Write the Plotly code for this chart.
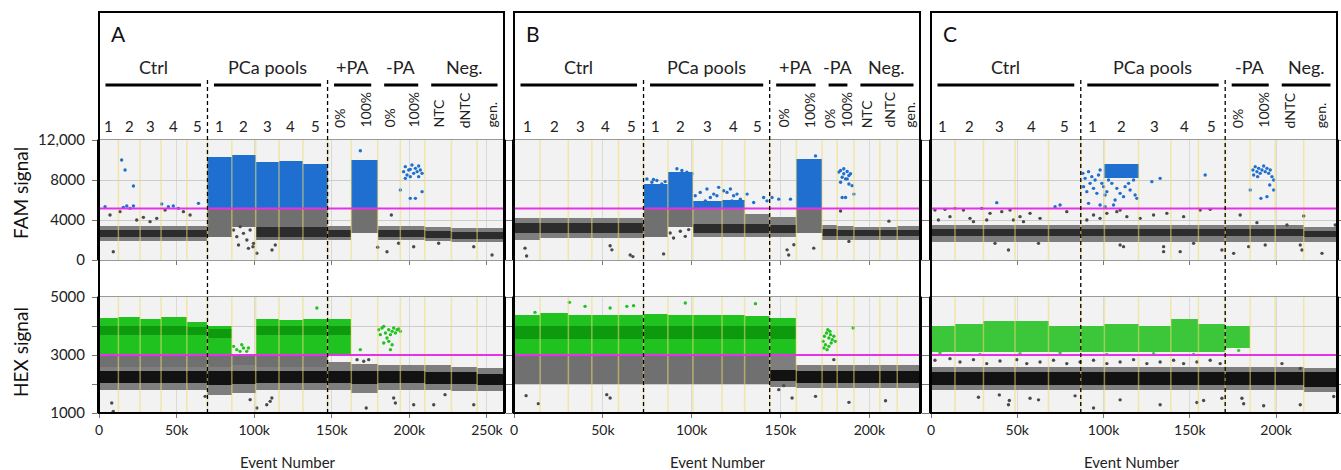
import plotly.graph_objects as go

W, H = 1341, 470
N = None
FAM_THR = 5150
HEX_THR = 3000

# ---------------- Panel A ----------------
A_bounds = [0, 12500, 26500, 40000, 56600, 69900, 85600, 101000, 116000, 131400,
            147300, 162600, 179600, 194200, 209900, 227100, 243700, 261000]
A_wells = ["1", "2", "3", "4", "5", "1", "2", "3", "4", "5", "0%", "100%", "0%", "100%", "NTC", "dNTC", "gen."]
A_groups = ["Ctrl", "PCa pools", "+PA", "-PA", "Neg."]
A_group_sizes = [5, 5, 2, 2, 3]
A_dashed = [69900, 147300]
A_xticks = [0, 50000, 100000, 150000, 200000, 250000]

A_fam_neg_lo = [1900, 1900, 1900, 1900, 1900, N, N, N, N, N, 2000, N, 2000, 2000, 1900, 1800, 1800]
A_fam_neg_hi = [3400, 3400, 3400, 3400, 3400, N, N, N, N, N, 3400, N, 3400, 3400, 3300, 3200, 3200]
A_fam_core_lo = [2300, 2300, 2300, 2300, 2300, N, N, 2300, 2300, 2300, 2350, N, 2300, 2300, 2200, 2100, 2100]
A_fam_core_hi = [3000, 3000, 3000, 3000, 3000, N, N, 3300, 3300, 3300, 3000, N, 3000, 3000, 2900, 2800, 2800]
A_fam_mid_lo = [N, N, N, N, N, 2300, 3300, 2000, 2000, 2000, N, 2700, N, N, N, N, N]
A_fam_mid_hi = [N, N, N, N, N, 5150, 5150, 5150, 5150, 5150, N, 5150, N, N, N, N, N]
A_fam_pos_lo = [N, N, N, N, N, 5150, 5150, 5150, 5150, 5150, N, 5150, N, N, N, N, N]
A_fam_pos_hi = [N, N, N, N, N, 10300, 10500, 9800, 9900, 9600, N, 10000, N, N, N, N, N]
A_fam_pts_x = [3900, 7100, 13500, 15700, 17900, 20000, 22200, 14600, 16800, 22200, 9200, 24300, 28600, 40400,
               42600, 44700, 47900, 51200, 54400, 58700, 64100, 37200, 32900,
               168400, 188400, 179600, 185600, 193100, 202800, 218900, 241500, 253300, 99200, 111500, 113600, 101700,
               86700, 88800, 91000, 93100, 95300, 97400, 99600, 89900, 96300,
               196300, 197400, 198500, 199600, 200600, 201700, 202800, 203900, 205000, 206000, 207100, 208200,
               197400, 200600, 206000, 203900, 200600, 208200, 194200]
A_fam_pts_y = [5333, 4500, 4833, 5267, 5400, 5167, 5400, 10000, 9000, 7400, 830, 4000, 4267, 5600,
               5000, 5333, 5400, 5167, 4833, 4500, 5667, 4167, 3833,
               10930, 4500, 1270, 830, 1670, 1330, 1670, 1330, 500, 1330, 1000, 1500, 670,
               3000, 2333, 3333, 2667, 2000, 3000, 1667, 1500, 1167,
               8833, 9333, 8500, 9000, 8333, 9500, 8667, 9167, 8833, 8333, 9000, 8667,
               8167, 9067, 9400, 6167, 6167, 6833, 7000]

A_hex_neg_lo = [1800, 1800, 1800, 1800, 1800, 1630, 1700, 1800, 1800, 1800, 1800, 1700, 1800, 1800, 1800, 1750, 1750]
A_hex_neg_hi = [2600, 2600, 2600, 2600, 2600, 2600, 2650, 2600, 2600, 2600, 2750, 2700, 2650, 2650, 2650, 2600, 2550]
A_hex_core_lo = [2050, 2050, 2050, 2050, 2050, 1950, 2000, 2050, 2050, 2050, 2050, 2000, 2050, 2050, 2000, 2000, 1950]
A_hex_core_hi = [2450, 2450, 2450, 2450, 2450, 2450, 2450, 2450, 2450, 2450, 2450, 2450, 2450, 2450, 2400, 2400, 2350]
A_hex_mid_lo = [2600, 2600, 2600, 2600, 2600, 2600, 2650, 2600, 2600, 2600, N, N, N, N, N, N, N]
A_hex_mid_hi = [3000, 3000, 3000, 3000, 3000, 3000, 3000, 3000, 3000, 3000, N, N, N, N, N, N, N]
A_hex_pos_lo = [3000, 3000, 3000, 3000, 3000, 3000, N, 3000, 3000, 3000, 3050, N, N, N, N, N, N]
A_hex_pos_hi = [4260, 4300, 4230, 4320, 4150, 4000, N, 4230, 4200, 4250, 4240, N, N, N, N, N, N]
A_hex_pcore_lo = [3700, 3700, 3700, 3700, 3700, 3600, N, 3700, 3700, 3700, 3700, N, N, N, N, N, N]
A_hex_pcore_hi = [4000, 4000, 4000, 4000, 3950, 3900, N, 4000, 4000, 4000, 4000, N, N, N, N, N, N]
A_hex_pts_x = [140400, 88800, 90900, 93100, 95200, 86700, 92000, 96300, 168400, 173800, 170600, 166300, 8200, 9200,
               68400, 97400, 101700, 108100, 111400, 110300, 172200, 189900, 191000, 202800, 215700, 241500, 223000,
               180200, 182400, 184600, 185600, 186700, 187800, 188900, 189900, 191000, 192100, 193200, 194200,
               183500, 181300, 186700, 187800, 183500, 188900]
A_hex_pts_y = [4620, 3184, 3126, 3241, 3126, 3299, 3356, 3241, 3184, 2840, 2782, 2840, 1345, 1057,
               1575, 1460, 1172, 1287, 1517, 1402, 1172, 1517, 1345, 1287, 1287, 1287, 1632,
               3873, 3930, 3758, 3586, 3873, 3701, 3816, 3930, 3758, 3873, 3896, 3816,
               3988, 3701, 3471, 3184, 3414, 3356]

# ---------------- Panel B ----------------
B_bounds = [0, 14700, 30600, 43800, 58800, 72900, 86600, 100700, 117100, 129800,
            143900, 158900, 173400, 181900, 191300, 205900, 215700, 228500]
B_wells = ["1", "2", "3", "4", "5", "1", "2", "3", "4", "5", "0%", "100%", "0%", "100%", "NTC", "dNTC", "gen."]
B_groups = ["Ctrl", "PCa pools", "+PA", "-PA", "Neg."]
B_group_sizes = [5, 5, 2, 2, 3]
B_dashed = [72900, 143900]
B_xticks = [0, 50000, 100000, 150000, 200000]

B_fam_neg_lo = [2000, 2250, 2250, 2250, 2250, N, N, 2300, 2300, 2300, 2350, N, 2000, 2000, 2050, 2050, 2000]
B_fam_neg_hi = [4250, 4250, 4250, 4250, 4250, N, N, 5150, 5150, 4600, 4300, N, 3500, 3400, 3350, 3350, 3400]
B_fam_core_lo = [2700, 2700, 2700, 2700, 2700, N, N, 2700, 2700, 2700, 2700, N, 2400, 2400, 2400, 2400, 2400]
B_fam_core_hi = [3700, 3700, 3700, 3700, 3700, N, N, 3600, 3600, 3600, 3500, N, 3100, 3000, 3000, 3000, 3000]
B_fam_mid_lo = [N, N, N, N, N, 2350, 3300, N, N, N, N, 2700, N, N, N, N, N]
B_fam_mid_hi = [N, N, N, N, N, 5150, 5150, N, N, N, N, 5150, N, N, N, N, N]
B_fam_pos_lo = [N, N, N, N, N, 5150, 5150, 5150, 5150, N, N, 5150, N, N, N, N, N]
B_fam_pos_hi = [N, N, N, N, N, 7600, 8800, 5900, 6000, N, N, 10100, N, N, N, N, N]
B_fam_pts_x = [74800, 77600, 80400, 83200, 85100, 73800, 78500, 91700, 94500, 97300, 100200,
               104800, 108600, 112400, 115200, 118000, 119900, 121800, 123600, 125500, 127400, 131200, 134900,
               140500, 142400, 114200, 110500, 122700, 125500, 107700, 102000,
               169700, 6200, 7100, 54100, 55100, 65400, 66900, 84200, 154600, 157500, 153700, 168700, 188500,
               211000, 149000, 145200, 155600, 87900, 89800, 93600, 96400, 98300,
               182800, 183800, 185600, 187500, 188500, 184700, 186600, 189400, 183800, 188500, 190300, 185600,
               187500, 184700, 186600, 183800, 191300]
B_fam_pts_y = [8112, 7774, 7943, 7605, 7842, 7436, 8044, 9126, 8957, 8788, 8619,
               6760, 7098, 6591, 7267, 6929, 6760, 7098, 6422, 6591, 6084, 6591, 5746,
               6253, 5915, 6422, 6253, 5915, 5678, 5915, 6422,
               10410, 1183, 406, 1420, 1014, 507, 338, 608, 507, 1521, 1014, 1183, 1859,
               3887, 6084, 6253, 6084, 2704, 2197, 2873, 2366, 3042,
               8788, 8957, 9126, 8856, 8450, 8281, 8112, 8619, 7774, 7605, 7436, 8619,
               8112, 6253, 6253, 4901, 6591]

B_hex_neg_lo = [N, N, N, N, N, N, N, N, N, N, 1900, 1850, 1850, 1850, 1850, 1850, 1850]
B_hex_neg_hi = [N, N, N, N, N, N, N, N, N, N, 3000, 2650, 2650, 2650, 2650, 2650, 2650]
B_hex_core_lo = [N, N, N, N, N, N, N, N, N, N, 2100, 2050, 2050, 2050, 2050, 2050, 2050]
B_hex_core_hi = [N, N, N, N, N, N, N, N, N, N, 2500, 2450, 2450, 2450, 2450, 2450, 2450]
B_hex_mid_lo = [2000, 2000, 2000, 2000, 2000, 2000, 2000, 2000, 2000, 2000, N, N, N, N, N, N, N]
B_hex_mid_hi = [3000, 3000, 3000, 3000, 3000, 3000, 3000, 3000, 3000, 3000, N, N, N, N, N, N, N]
B_hex_pos_lo = [3000, 3000, 3000, 3000, 3000, 3000, 3000, 3000, 3000, 3000, 3000, N, N, N, N, N, N]
B_hex_pos_hi = [4390, 4450, 4390, 4390, 4390, 4420, 4390, 4370, 4390, 4330, 4280, N, N, N, N, N, N]
B_hex_pcore_lo = [3550, 3550, 3550, 3550, 3550, 3550, 3550, 3550, 3550, 3550, 3550, N, N, N, N, N, N]
B_hex_pcore_hi = [4000, 4000, 4000, 4000, 4000, 4000, 4000, 4000, 4000, 4000, 4000, N, N, N, N, N, N]
B_hex_pts_x = [31200, 40000, 54100, 63500, 67300, 96400, 135900, 11800, 6800, 13700, 52200, 54100, 149000,
               151800, 156500, 169700, 188500, 209100, 180000,
               174000, 174700, 175900, 176600, 177200, 178100, 179100, 180000, 180900, 175300, 177200, 178500,
               176200, 174400, 177800, 190900]
B_hex_pts_y = [4816, 4678, 4621, 4678, 4701, 4793, 4770, 4471, 1598, 1322, 1632, 1517, 1805,
               1943, 1517, 1575, 1368, 1425, 2839,
               3471, 3644, 3759, 3874, 3586, 3701, 3529, 3644, 3471, 3356, 3299, 3414,
               3184, 3241, 3816, 3931]

# ---------------- Panel C ----------------
C_bounds = [0, 13900, 30400, 48700, 68100, 86800, 100500, 120300, 139000, 155000,
            170500, 185000, 199500, 216000, 235300]
C_wells = ["1", "2", "3", "4", "5", "1", "2", "3", "4", "5", "0%", "100%", "dNTC", "gen."]
C_groups = ["Ctrl", "PCa pools", "-PA", "Neg."]
C_group_sizes = [5, 5, 2, 2]
C_dashed = [86800, 170500]
C_xticks = [0, 50000, 100000, 150000, 200000]

C_fam_neg_lo = [1850] * 13 + [1800]
C_fam_neg_hi = [3500] * 13 + [3300]
C_fam_core_lo = [2400] * 13 + [2300]
C_fam_core_hi = [3100] * 13 + [2950]
C_fam_mid_lo = [N] * 14
C_fam_mid_hi = [N] * 14
C_fam_pos_lo = [N, N, N, N, N, N, 8200, N, N, N, N, N, N, N]
C_fam_pos_hi = [N, N, N, N, N, N, 9600, N, N, N, N, N, N, N]
C_fam_pts_x = [88000, 89300, 91300, 93200, 95100, 97100, 99000, 90300, 94200, 96100, 100000, 101900, 104800,
               107700, 109600, 112500, 115400, 118300, 119300, 111600, 106700, 100900, 102900, 114500, 117400,
               128000, 132800, 158900, 88400, 92200, 98000, 105800, 109600, 91300, 98000, 100900,
               186600, 187900, 188900, 189900, 190800, 191800, 192800, 193700, 194700, 195700, 196600, 197600,
               198600, 187000, 189300, 191200, 194700, 198600, 185000, 196300,
               2300, 8100, 13900, 18800, 22600, 29400, 34200, 38100, 41000, 45800, 51600, 57400, 63200, 71900,
               74800, 78700, 24600, 11000, 4300, 32300, 47800, 53600, 90300, 94200, 98000, 101900, 107700,
               113500, 121200, 129000, 136700, 146400, 156000, 161800, 179200, 188900, 206300, 216000, 234300,
               44900, 37100, 62300, 109600, 111600, 134800, 134800, 144400, 152200, 168600, 175400, 184100,
               193700, 214000, 215000, 226600]
C_fam_pts_y = [8667, 8167, 8833, 8333, 8000, 8500, 7667, 6833, 7167, 6667, 7333, 6833, 7667,
               7167, 6667, 7333, 7000, 6500, 6167, 6333, 6000, 6500, 8000, 7667, 8000,
               7833, 8167, 8500, 7333, 7667, 9000, 5500, 5000, 5667, 5500, 5333,
               9000, 9333, 8833, 9167, 8667, 9000, 9400, 8833, 9167, 8667, 9000, 8333,
               8000, 8500, 8333, 6167, 6333, 7000, 7000, 7500,
               5000, 5067, 5167, 5000, 4167, 5167, 4667, 5733, 4833, 5000, 4333, 4667, 4167, 5333,
               5500, 4833, 3833, 4333, 4000, 4000, 4000, 3833, 4000, 4500, 4167, 4667, 4833,
               4333, 4167, 4500, 4667, 4333, 5000, 5067, 4500, 3733, 3500, 4400, 3500,
               1000, 1667, 1667, 1500, 1333, 833, 1333, 833, 1667, 1000, 667, 1333,
               1500, 1500, 1000, 667]

C_hex_neg_lo = [1800] * 13 + [1740]
C_hex_neg_hi = [2600] * 13 + [2550]
C_hex_core_lo = [1950] * 13 + [1900]
C_hex_core_hi = [2420] * 13 + [2400]
C_hex_mid_lo = [N] * 14
C_hex_mid_hi = [N] * 14
C_hex_pos_lo = [3100, 3100, 3100, 3100, 3100, 3100, 3100, 3100, 3100, 3100, 3250, N, N, N]
C_hex_pos_hi = [4010, 4070, 4180, 4160, 4010, 4010, 4070, 4010, 4240, 4070, 4000, N, N, N]
C_hex_pcore_lo = [N] * 14
C_hex_pcore_hi = [N] * 14
C_hex_pts_x = [27500, 39600, 44900, 45400, 57400, 62300, 83500, 94200, 109600, 132800, 154100, 158000, 168600,
               180200, 181200, 192800, 214000, 233400,
               2300, 11000, 16800, 24600, 32300, 40000, 49700, 55500, 63200, 71000, 78700, 86400, 94200,
               101900, 109600, 117400, 125100, 132800, 140600, 146400, 154100, 161800, 167600, 203400, 214000,
               5200, 28400, 51600, 74800, 101900, 129000, 152200, 178300]
C_hex_pts_y = [1545, 1625, 1284, 1432, 1511, 1454, 1591, 1170, 1454, 1284, 1364, 1432, 1511,
               1511, 1318, 1250, 1284, 1568,
               2818, 2874, 2761, 2840, 2704, 2795, 2840, 2704, 2761, 2818, 2704, 2761, 2818,
               2704, 2761, 2840, 2704, 2761, 2818, 2704, 2761, 2818, 2704, 2704, 2534,
               3068, 3022, 3045, 3068, 3022, 3045, 3022, 3159]

# ---------------- styling ----------------
FONT = "Lato, 'Open Sans', sans-serif"
NEG_OUT = "#7e7e7e"
NEG_CORE_FAM = "#2c2c2c"
NEG_CORE_HEX = "#121212"
MID = "#707070"
FAM_POS = "#1f6fd0"
HEX_POS = "#1fc21f"
HEX_POS_C = "#3cc63a"
HEX_PCORE = "#0e9a0e"
PT_GREY = "#4a4a4a"
MAGENTA = "#e632e6"

PX_DOM = [(99, 504), (514, 920), (931, 1337)]
FAM_PY = (140, 260)
HEX_PY = (297, 413)
BOX_TOP = 12


def px(xp):
    return xp / W


def py(yp):
    return 1 - yp / H


panels = [
    dict(letter="A", bounds=A_bounds, wells=A_wells, groups=A_groups, sizes=A_group_sizes, dashed=A_dashed,
         xticks=A_xticks,
         fam=[A_fam_mid_lo, A_fam_mid_hi, A_fam_neg_lo, A_fam_neg_hi, A_fam_core_lo, A_fam_core_hi,
              A_fam_pos_lo, A_fam_pos_hi, A_fam_pts_x, A_fam_pts_y],
         hex=[A_hex_mid_lo, A_hex_mid_hi, A_hex_neg_lo, A_hex_neg_hi, A_hex_core_lo, A_hex_core_hi,
              A_hex_pos_lo, A_hex_pos_hi, A_hex_pcore_lo, A_hex_pcore_hi, A_hex_pts_x, A_hex_pts_y],
         hexcol=HEX_POS, evx=288),
    dict(letter="B", bounds=B_bounds, wells=B_wells, groups=B_groups, sizes=B_group_sizes, dashed=B_dashed,
         xticks=B_xticks,
         fam=[B_fam_mid_lo, B_fam_mid_hi, B_fam_neg_lo, B_fam_neg_hi, B_fam_core_lo, B_fam_core_hi,
              B_fam_pos_lo, B_fam_pos_hi, B_fam_pts_x, B_fam_pts_y],
         hex=[B_hex_mid_lo, B_hex_mid_hi, B_hex_neg_lo, B_hex_neg_hi, B_hex_core_lo, B_hex_core_hi,
              B_hex_pos_lo, B_hex_pos_hi, B_hex_pcore_lo, B_hex_pcore_hi, B_hex_pts_x, B_hex_pts_y],
         hexcol=HEX_POS, evx=718),
    dict(letter="C", bounds=C_bounds, wells=C_wells, groups=C_groups, sizes=C_group_sizes, dashed=C_dashed,
         xticks=C_xticks,
         fam=[C_fam_mid_lo, C_fam_mid_hi, C_fam_neg_lo, C_fam_neg_hi, C_fam_core_lo, C_fam_core_hi,
              C_fam_pos_lo, C_fam_pos_hi, C_fam_pts_x, C_fam_pts_y],
         hex=[C_hex_mid_lo, C_hex_mid_hi, C_hex_neg_lo, C_hex_neg_hi, C_hex_core_lo, C_hex_core_hi,
              C_hex_pos_lo, C_hex_pos_hi, C_hex_pcore_lo, C_hex_pcore_hi, C_hex_pts_x, C_hex_pts_y],
         hexcol=HEX_POS_C, evx=1132),
]

fig = go.Figure()


def sfx(i):
    return "" if i == 1 else str(i)


def add_band(bounds, lo, hi, color, i):
    xs, ys, bs, ws = [], [], [], []
    for k in range(len(bounds) - 1):
        if lo[k] is None or hi[k] is None:
            continue
        xs.append((bounds[k] + bounds[k + 1]) / 2)
        ws.append(bounds[k + 1] - bounds[k])
        bs.append(lo[k])
        ys.append(hi[k] - lo[k])
    if not xs:
        return
    fig.add_trace(go.Bar(x=xs, y=ys, base=bs, width=ws,
                         marker=dict(color=color, line=dict(width=0)),
                         xaxis="x" + sfx(i), yaxis="y" + sfx(i),
                         showlegend=False, hoverinfo="skip"))


def add_points(xs, ys, thr, poscol, i):
    cols = [poscol if v > thr else PT_GREY for v in ys]
    fig.add_trace(go.Scatter(x=xs, y=ys, mode="markers",
                             marker=dict(size=3.4, color=cols, line=dict(width=0)),
                             xaxis="x" + sfx(i), yaxis="y" + sfx(i),
                             showlegend=False, hoverinfo="skip"))


shapes = []
annotations = []
layout_axes = {}

for p, P in enumerate(panels):
    fi, hi_ = 2 * p + 1, 2 * p + 2
    b = P["bounds"]
    xmax = b[-1]
    x0p, x1p = PX_DOM[p]

    mlo, mhi, nlo, nhi, clo, chi, plo, phi, ptx, pty = P["fam"]
    add_band(b, mlo, mhi, MID, fi)
    add_band(b, nlo, nhi, NEG_OUT, fi)
    add_band(b, clo, chi, NEG_CORE_FAM, fi)
    add_band(b, plo, phi, FAM_POS, fi)
    add_points(ptx, pty, FAM_THR, FAM_POS, fi)

    mlo, mhi, nlo, nhi, clo, chi, plo, phi, pclo, pchi, ptx, pty = P["hex"]
    add_band(b, mlo, mhi, MID, hi_)
    add_band(b, nlo, nhi, NEG_OUT, hi_)
    add_band(b, clo, chi, NEG_CORE_HEX, hi_)
    add_band(b, plo, phi, P["hexcol"], hi_)
    add_band(b, pclo, pchi, HEX_PCORE, hi_)
    add_points(ptx, pty, HEX_THR, P["hexcol"], hi_)

    tick_text = ["0" if v == 0 else f"{v // 1000}k" for v in P["xticks"]]
    for i, ypx, yr, tv, tt in [
        (fi, FAM_PY, [0, 12000], [0, 4000, 8000, 12000],
         ["0", "4000", "8000", "12,000"] if p == 0 else ["", "", "", ""]),
        (hi_, HEX_PY, [1000, 5000], [1000, 2000, 3000, 4000, 5000],
         ["1000", "", "3000", "", "5000"] if p == 0 else ["", "", "", "", ""]),
    ]:
        layout_axes["xaxis" + sfx(i)] = dict(
            domain=[px(x0p), px(x1p)], range=[0, xmax], anchor="y" + sfx(i), automargin=False,
            tickvals=P["xticks"], ticktext=tick_text, showticklabels=(i == hi_),
            ticks="outside", ticklen=4, tickcolor="#777", showgrid=True, gridcolor="#d9d9d9",
            showline=True, linecolor="#9a9a9a", linewidth=1, mirror=True, zeroline=False,
            tickfont=dict(family=FONT, size=14, color="#222"), fixedrange=True)
        layout_axes["yaxis" + sfx(i)] = dict(
            domain=[py(ypx[1]), py(ypx[0])], range=yr, anchor="x" + sfx(i), automargin=False,
            tickvals=tv, ticktext=tt, ticks="outside", ticklen=5, tickcolor="#777",
            showgrid=True, gridcolor="#cccccc", zeroline=False, showline=True,
            linecolor="black", linewidth=2, mirror="ticks",
            tickfont=dict(family=FONT, size=15, color="#222"), ticklabelstandoff=4, fixedrange=True)

        for xb in b[1:-1]:
            shapes.append(dict(type="line", xref="x" + sfx(i), yref="y" + sfx(i) + " domain",
                               x0=xb, x1=xb, y0=0, y1=1, layer="above",
                               line=dict(color="rgba(238,220,110,0.55)", width=1.5)))
        thr = FAM_THR if i == fi else HEX_THR
        shapes.append(dict(type="line", xref="x" + sfx(i) + " domain", yref="y" + sfx(i),
                           x0=0, x1=1, y0=thr, y1=thr, layer="above",
                           line=dict(color=MAGENTA, width=2.2)))

    for xd in P["dashed"]:
        shapes.append(dict(type="line", xref="x" + sfx(fi), yref="paper", x0=xd, x1=xd,
                           y0=py(HEX_PY[1]), y1=py(80), layer="above",
                           line=dict(color="black", width=1.3, dash="4px,3px")))

    inset = 0.016 * xmax
    k = 0
    for g, n in zip(P["groups"], P["sizes"]):
        gx0, gx1 = b[k], b[k + n]
        shapes.append(dict(type="line", xref="x" + sfx(fi), yref="paper",
                           x0=gx0 + inset, x1=gx1 - inset, y0=py(85), y1=py(85),
                           line=dict(color="black", width=3)))
        annotations.append(dict(text=g, xref="x" + sfx(fi), yref="paper", x=(gx0 + gx1) / 2, y=py(67),
                                xanchor="center", yanchor="middle", showarrow=False,
                                font=dict(family=FONT, size=18, color="#222")))
        k += n

    for w, lab in enumerate(P["wells"]):
        cx = (b[w] + b[w + 1]) / 2
        if lab.isdigit():
            annotations.append(dict(text=lab, xref="x" + sfx(fi), yref="paper", x=cx, y=py(126),
                                    xanchor="center", yanchor="middle", showarrow=False,
                                    font=dict(family=FONT, size=15, color="#222")))
        else:
            annotations.append(dict(text=lab, xref="x" + sfx(fi), yref="paper", x=cx, y=py(130),
                                    xanchor="center", yanchor="bottom", textangle=-90, showarrow=False,
                                    font=dict(family=FONT, size=14, color="#222")))

    annotations.append(dict(text=P["letter"], xref="paper", yref="paper", x=px(x0p + 19), y=py(33),
                            xanchor="center", yanchor="middle", showarrow=False,
                            font=dict(family=FONT, size=21, color="#111")))
    annotations.append(dict(text="Event Number", xref="paper", yref="paper", x=px(P["evx"]), y=py(462),
                            xanchor="center", yanchor="middle", showarrow=False,
                            font=dict(family=FONT, size=15, color="#222")))
    shapes.append(dict(type="rect", xref="paper", yref="paper", x0=px(x0p), x1=px(x1p),
                       y0=py(HEX_PY[1]), y1=py(BOX_TOP), layer="above",
                       line=dict(color="black", width=2)))

annotations.append(dict(text="FAM signal", xref="paper", yref="paper", x=px(20), y=py(193),
                        xanchor="center", yanchor="middle", textangle=-90, showarrow=False,
                        font=dict(family=FONT, size=19, color="#111")))
annotations.append(dict(text="HEX signal", xref="paper", yref="paper", x=px(20), y=py(352),
                        xanchor="center", yanchor="middle", textangle=-90, showarrow=False,
                        font=dict(family=FONT, size=19, color="#111")))

fig.update_layout(
    template="none",
    width=W, height=H, margin=dict(l=0, r=0, t=0, b=0, pad=0, autoexpand=False),
    paper_bgcolor="white", plot_bgcolor="#f2f2f2",
    barmode="overlay", bargap=0, showlegend=False,
    shapes=shapes, annotations=annotations,
    **layout_axes,
)

POST = (
    "var d=document.getElementById('{plot_id}');"
    "var h=document.documentElement,b=document.body;"
    "h.style.margin='0';h.style.padding='0';h.style.overflow='hidden';"
    "b.style.margin='0';b.style.padding='0';b.style.overflow='hidden';"
    "d.style.position='fixed';d.style.left='0px';d.style.top='0px';"
)

fig.write_html("out.html", config={"displayModeBar": False}, post_script=POST)
